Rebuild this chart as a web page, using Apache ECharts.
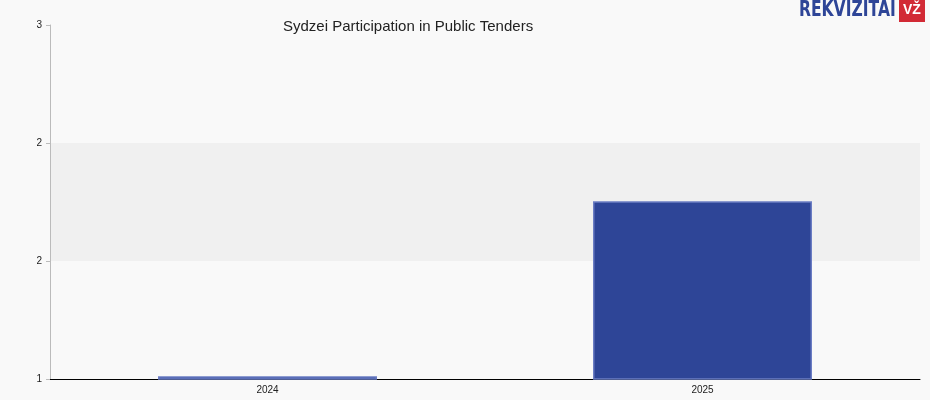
<!DOCTYPE html>
<html><head><meta charset="utf-8">
<script src="https://cdn.jsdelivr.net/npm/echarts@6/dist/echarts.min.js"></script>
<style>html,body{margin:0;background:#f9f9f9}#c{width:930px;height:400px}</style>
</head><body><div id="c"></div>
<script>
const years = ['2024', '2025'];
const tenders = [1, 2];

const chart = echarts.init(document.getElementById('c'));
chart.setOption({
  backgroundColor: '#f9f9f9',
  animation: false,
  title: {
    text: 'Sydzei Participation in Public Tenders',
    left: 278, top: 14,
    textStyle: { fontFamily: 'Liberation Sans', fontSize: 15, fontWeight: 'normal', color: '#222' }
  },
  graphic: [
    { type: 'text', x: 799, y: 0, scaleX: 0.74, style: { text: 'REKVIZITAI', fontFamily: 'DejaVu Sans', fontWeight: 'bold', fontSize: 21, fill: '#2e4597' } },
    { type: 'rect', left: 899, top: 0, shape: { width: 26, height: 22 }, style: { fill: '#d22a35' } },
    { type: 'text', left: 903, top: 3, style: { text: 'VŽ', fontFamily: 'Liberation Sans', fontWeight: 'bold', fontSize: 14, fill: '#fff' } }
  ],
  grid: { left: 50, right: 10, top: 25, bottom: 21 },
  xAxis: {
    type: 'category', data: years,
    axisLine: { lineStyle: { color: '#000' } },
    axisTick: { show: false },
    axisLabel: { fontSize: 10, color: '#222', fontFamily: 'Liberation Sans', margin: 6 }
  },
  yAxis: {
    type: 'value', min: 1, max: 3, interval: 2 / 3,
    axisLine: { show: true, lineStyle: { color: '#bbb' } },
    axisTick: { show: true, length: 4, lineStyle: { color: '#bbb' } },
    splitLine: { show: false },
    splitArea: { show: true, areaStyle: { color: ['rgba(0,0,0,0)', '#f0f0f0'] } },
    axisLabel: { fontSize: 10, color: '#222', fontFamily: 'Liberation Sans', formatter: v => Math.round(v) }
  },
  series: [{
    type: 'custom',
    data: tenders.map((v, i) => [i, v]),
    renderItem: (params, api) => {
      const top = api.coord([api.value(0), api.value(1)]);
      const base = api.coord([api.value(0), 1]);
      const w = api.size([1, 0])[0] * 0.5;
      const h = Math.max(base[1] - top[1], 2);
      return {
        type: 'rect',
        shape: { x: top[0] - w / 2, y: base[1] - h, width: w, height: h },
        style: { fill: '#2e4597', stroke: '#6b7dc4', lineWidth: 1.5 }
      };
    }
  }]
});
</script></body></html>
